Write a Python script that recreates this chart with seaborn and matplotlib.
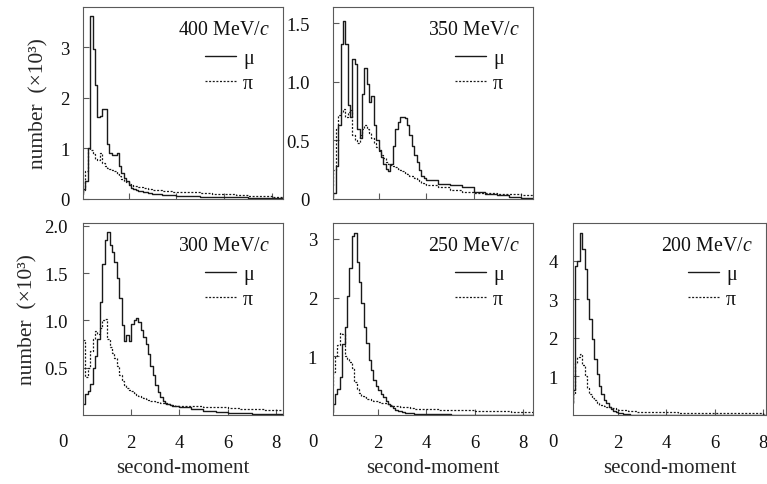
import numpy as np
import pandas as pd
import matplotlib
matplotlib.use("Agg")
import matplotlib.pyplot as plt
from matplotlib.lines import Line2D
import seaborn as sns

# ── Data (counts in units of 10^3) ────────────────────────────────────────────
# bin edges: 0.1 wide up to 4, then 0.5 wide out to 8.5
EDGES = [round(e, 2) for e in np.r_[np.arange(40) / 10, 4 + np.arange(10) / 2]]
CENTERS = [(a + b) / 2 for a, b in zip(EDGES[:-1], EDGES[1:])]

MOMENTA = ["400", "350", "300", "250", "200"]

MU_400 = [0.10, 0.20, 0.35, 1.00, 3.62, 2.97, 2.26, 1.62, 1.65, 1.78,
          1.78, 1.09, 0.92, 0.87, 0.87, 0.92, 0.65, 0.52, 0.42, 0.35,
          0.28, 0.22, 0.20, 0.18, 0.16, 0.15, 0.14, 0.13, 0.12, 0.11,
          0.10, 0.10, 0.09, 0.09, 0.08, 0.08, 0.08, 0.07, 0.07, 0.07,
          0.06, 0.05, 0.04, 0.04, 0.03, 0.03, 0.02, 0.02, 0.02]
PI_400 = [0.10, 0.18, 0.55, 1.00, 0.96, 0.90, 0.80, 0.78, 0.92, 0.72,
          0.66, 0.62, 0.60, 0.58, 0.55, 0.50, 0.45, 0.40, 0.36, 0.33,
          0.30, 0.28, 0.26, 0.25, 0.24, 0.23, 0.22, 0.21, 0.20, 0.19,
          0.18, 0.18, 0.17, 0.17, 0.16, 0.16, 0.15, 0.15, 0.14, 0.14,
          0.14, 0.13, 0.12, 0.10, 0.09, 0.07, 0.06, 0.05, 0.04]

MU_350 = [0.02, 0.05, 0.28, 0.63, 1.32, 1.52, 1.32, 0.80, 0.70, 1.20,
          1.15, 0.60, 0.52, 0.90, 1.12, 0.98, 0.83, 0.88, 0.63, 0.50,
          0.42, 0.36, 0.30, 0.26, 0.24, 0.30, 0.45, 0.60, 0.66, 0.70,
          0.70, 0.69, 0.63, 0.55, 0.45, 0.38, 0.32, 0.25, 0.20, 0.18,
          0.16, 0.13, 0.12, 0.10, 0.06, 0.04, 0.03, 0.02, 0.01]
PI_350 = [0.10, 0.25, 0.60, 0.72, 0.74, 0.77, 0.70, 0.74, 0.76, 0.55,
          0.50, 0.48, 0.55, 0.60, 0.63, 0.60, 0.56, 0.52, 0.48, 0.44,
          0.41, 0.38, 0.35, 0.32, 0.30, 0.29, 0.28, 0.27, 0.26, 0.25,
          0.24, 0.22, 0.21, 0.20, 0.20, 0.18, 0.17, 0.15, 0.14, 0.13,
          0.12, 0.10, 0.08, 0.06, 0.05, 0.05, 0.04, 0.04, 0.03]

MU_300 = [0.12, 0.22, 0.25, 0.33, 0.50, 0.62, 0.80, 1.20, 1.60, 1.85,
          1.93, 1.80, 1.72, 1.62, 1.45, 1.24, 0.95, 0.78, 0.85, 0.78,
          0.96, 1.00, 1.03, 0.98, 0.90, 0.82, 0.75, 0.65, 0.52, 0.42,
          0.32, 0.24, 0.19, 0.15, 0.13, 0.12, 0.11, 0.10, 0.10, 0.09,
          0.08, 0.06, 0.04, 0.03, 0.02, 0.02, 0.01, 0.01, 0.01]
PI_300 = [0.79, 0.40, 0.50, 0.68, 0.80, 0.89, 0.86, 0.92, 1.00, 1.02,
          0.80, 0.72, 0.66, 0.60, 0.52, 0.42, 0.36, 0.32, 0.29, 0.26,
          0.25, 0.23, 0.21, 0.20, 0.19, 0.18, 0.17, 0.16, 0.15, 0.15,
          0.14, 0.14, 0.13, 0.13, 0.12, 0.12, 0.11, 0.11, 0.10, 0.10,
          0.09, 0.09, 0.08, 0.08, 0.07, 0.06, 0.06, 0.05, 0.05]

MU_250 = [0.05, 0.19, 0.36, 0.45, 0.65, 1.21, 1.50, 2.02, 2.50, 3.05,
          3.10, 2.60, 2.27, 1.90, 1.50, 1.22, 0.94, 0.77, 0.60, 0.50,
          0.43, 0.36, 0.30, 0.24, 0.18, 0.15, 0.12, 0.09, 0.07, 0.06,
          0.05, 0.04, 0.04, 0.03, 0.03, 0.02, 0.02, 0.02, 0.02, 0.01,
          0.01, 0.01, 0.00, 0.00, 0.00, 0.00, 0.00, 0.00, 0.00]
PI_250 = [0.50, 0.73, 1.00, 1.20, 1.40, 1.38, 1.00, 0.96, 0.90, 0.80,
          0.56, 0.45, 0.38, 0.33, 0.30, 0.28, 0.27, 0.25, 0.24, 0.23,
          0.22, 0.21, 0.20, 0.19, 0.18, 0.17, 0.16, 0.15, 0.15, 0.14,
          0.14, 0.13, 0.13, 0.12, 0.12, 0.11, 0.11, 0.11, 0.10, 0.10,
          0.10, 0.09, 0.08, 0.08, 0.07, 0.06, 0.06, 0.05, 0.05]

MU_200 = [0.30, 0.65, 3.87, 4.00, 4.73, 4.30, 3.78, 3.00, 2.49, 1.97,
          1.45, 1.06, 0.76, 0.55, 0.38, 0.30, 0.22, 0.15, 0.10, 0.08,
          0.05, 0.04, 0.03, 0.02, 0.02, 0.01, 0.01, 0.01, 0.01, 0.01,
          0.01, 0.01, 0.00, 0.00, 0.00, 0.00, 0.00, 0.00, 0.00, 0.00,
          0.00, 0.00, 0.00, 0.00, 0.00, 0.00, 0.00, 0.00, 0.00]
PI_200 = [0.30, 0.55, 1.35, 1.50, 1.57, 1.30, 1.00, 0.70, 0.55, 0.45,
          0.38, 0.32, 0.27, 0.25, 0.23, 0.22, 0.20, 0.19, 0.17, 0.16,
          0.14, 0.13, 0.12, 0.12, 0.11, 0.10, 0.10, 0.10, 0.09, 0.09,
          0.08, 0.08, 0.08, 0.08, 0.08, 0.08, 0.07, 0.07, 0.07, 0.07,
          0.07, 0.06, 0.06, 0.05, 0.05, 0.04, 0.04, 0.04, 0.03]

MU = [MU_400, MU_350, MU_300, MU_250, MU_200]
PI = [PI_400, PI_350, PI_300, PI_250, PI_200]

YTICKS = [[0, 1, 2, 3], [0, 0.5, 1.0, 1.5], [0.5, 1.0, 1.5, 2.0], [1, 2, 3], [1, 2, 3, 4]]
YTICKLABELS = [["0", "1", "2", "3"], ["0", "0.5", "1.0", "1.5"],
               ["0.5", "1.0", "1.5", "2.0"], ["1", "2", "3"], ["1", "2", "3", "4"]]
XTICKS = [2, 4, 6, 8]
XTICKLABELS = ["2", "4", "6", "8"]

# ── Layout (pixels of the 767x485 canvas) ─────────────────────────────────────
W, H = 767, 485
BOXES = [(83, 8, 200, 192), (333, 8, 200, 192),
         (83, 224, 200, 192), (333, 224, 200, 192), (573, 224, 193, 192)]
XLIMS = [(0.1, 8.45), (0.08, 8.5), (0.0, 8.3), (0.12, 8.42), (0.12, 8.14)]
YLIMS = [(0, 3.8), (0, 1.64), (0, 2.03), (0, 3.27), (0, 4.98)]
YPADS = [9.5, 16.5, 11, 11.5, 11]
BOTTOM_ROW = [False, False, True, True, True]
LEFT_COL = [True, False, True, False, False]
YLABEL_X = {0: -0.175, 2: -0.23}

TICK_FS = 13.5
LABEL_FS = 15
NOTE_FS = 14.3

# ── Style ─────────────────────────────────────────────────────────────────────
LINE_CLR = "#1a1a1a"
SPINE_CLR = "#5a5a5a"
PI_STYLE = (0, (1.6, 1.3))

sns.set_theme(style="ticks")
plt.rcParams.update({
    "font.family": ["Liberation Serif", "DejaVu Serif"],
    "mathtext.fontset": "custom",
    "mathtext.rm": "Liberation Serif",
    "mathtext.it": "Liberation Serif:italic",
    "axes.edgecolor": SPINE_CLR,
    "axes.linewidth": 0.8,
    "text.color": "#111111",
    "xtick.color": SPINE_CLR,
    "ytick.color": SPINE_CLR,
    "xtick.labelcolor": "#111111",
    "ytick.labelcolor": "#111111",
})

fig = plt.figure(figsize=(W / 100, H / 100), dpi=100)

for i, (box, mu, pi) in enumerate(zip(BOXES, MU, PI)):
    l, t, w, h = box
    ax = fig.add_axes([l / W, 1 - (t + h) / H, w / W, h / H])

    df = pd.DataFrame({"moment": CENTERS, "mu": mu, "pi": pi})
    sns.histplot(data=df, x="moment", weights="mu", bins=EDGES, element="step",
                 fill=False, color=LINE_CLR, linewidth=1.0, ax=ax)
    sns.histplot(data=df, x="moment", weights="pi", bins=EDGES, element="step",
                 fill=False, color=LINE_CLR, linewidth=0.9, linestyle=PI_STYLE, ax=ax)

    ax.set_xlim(*XLIMS[i])
    ax.set_ylim(*YLIMS[i])
    ax.set_xticks(XTICKS)
    ax.set_yticks(YTICKS[i])
    ax.set_yticklabels(YTICKLABELS[i])
    ax.tick_params(direction="in", length=4, width=0.8, labelsize=TICK_FS)
    ax.tick_params(axis="y", pad=YPADS[i])
    ax.set_xlabel("")
    ax.set_ylabel("")

    if BOTTOM_ROW[i]:
        ax.set_xticklabels(XTICKLABELS)
        ax.tick_params(axis="x", pad=13.5)
        ax.set_xlabel("second-moment", fontsize=LABEL_FS)
        ax.xaxis.set_label_coords(0.5, -0.224)
        # origin label sits left of the frame
        ax.text(-20 / w, -(443 - 416) / h, "0", transform=ax.transAxes,
                ha="center", va="center", fontsize=TICK_FS)
    else:
        ax.tick_params(axis="x", labelbottom=False)

    if LEFT_COL[i]:
        ax.set_ylabel("number  (×10³)", fontsize=LABEL_FS + 0.5)
        ax.yaxis.set_label_coords(YLABEL_X[i], 0.5)

    ax.text(1 - 13 / w, 1 - 23 / h, MOMENTA[i] + " MeV/$c$", transform=ax.transAxes,
            ha="right", va="center", fontsize=NOTE_FS)

    handles = [Line2D([], [], color=LINE_CLR, lw=1.0),
               Line2D([], [], color=LINE_CLR, lw=0.9, ls=PI_STYLE)]
    ax.legend(handles, ["μ", "π"], loc="upper right",
              bbox_to_anchor=(1 - 29 / w, 1 - 42 / h), frameon=False, fontsize=NOTE_FS,
              handlelength=1.6, handletextpad=0.35, labelspacing=0.3,
              borderpad=0, borderaxespad=0)

fig.savefig("out.png", dpi=100, facecolor="white")
